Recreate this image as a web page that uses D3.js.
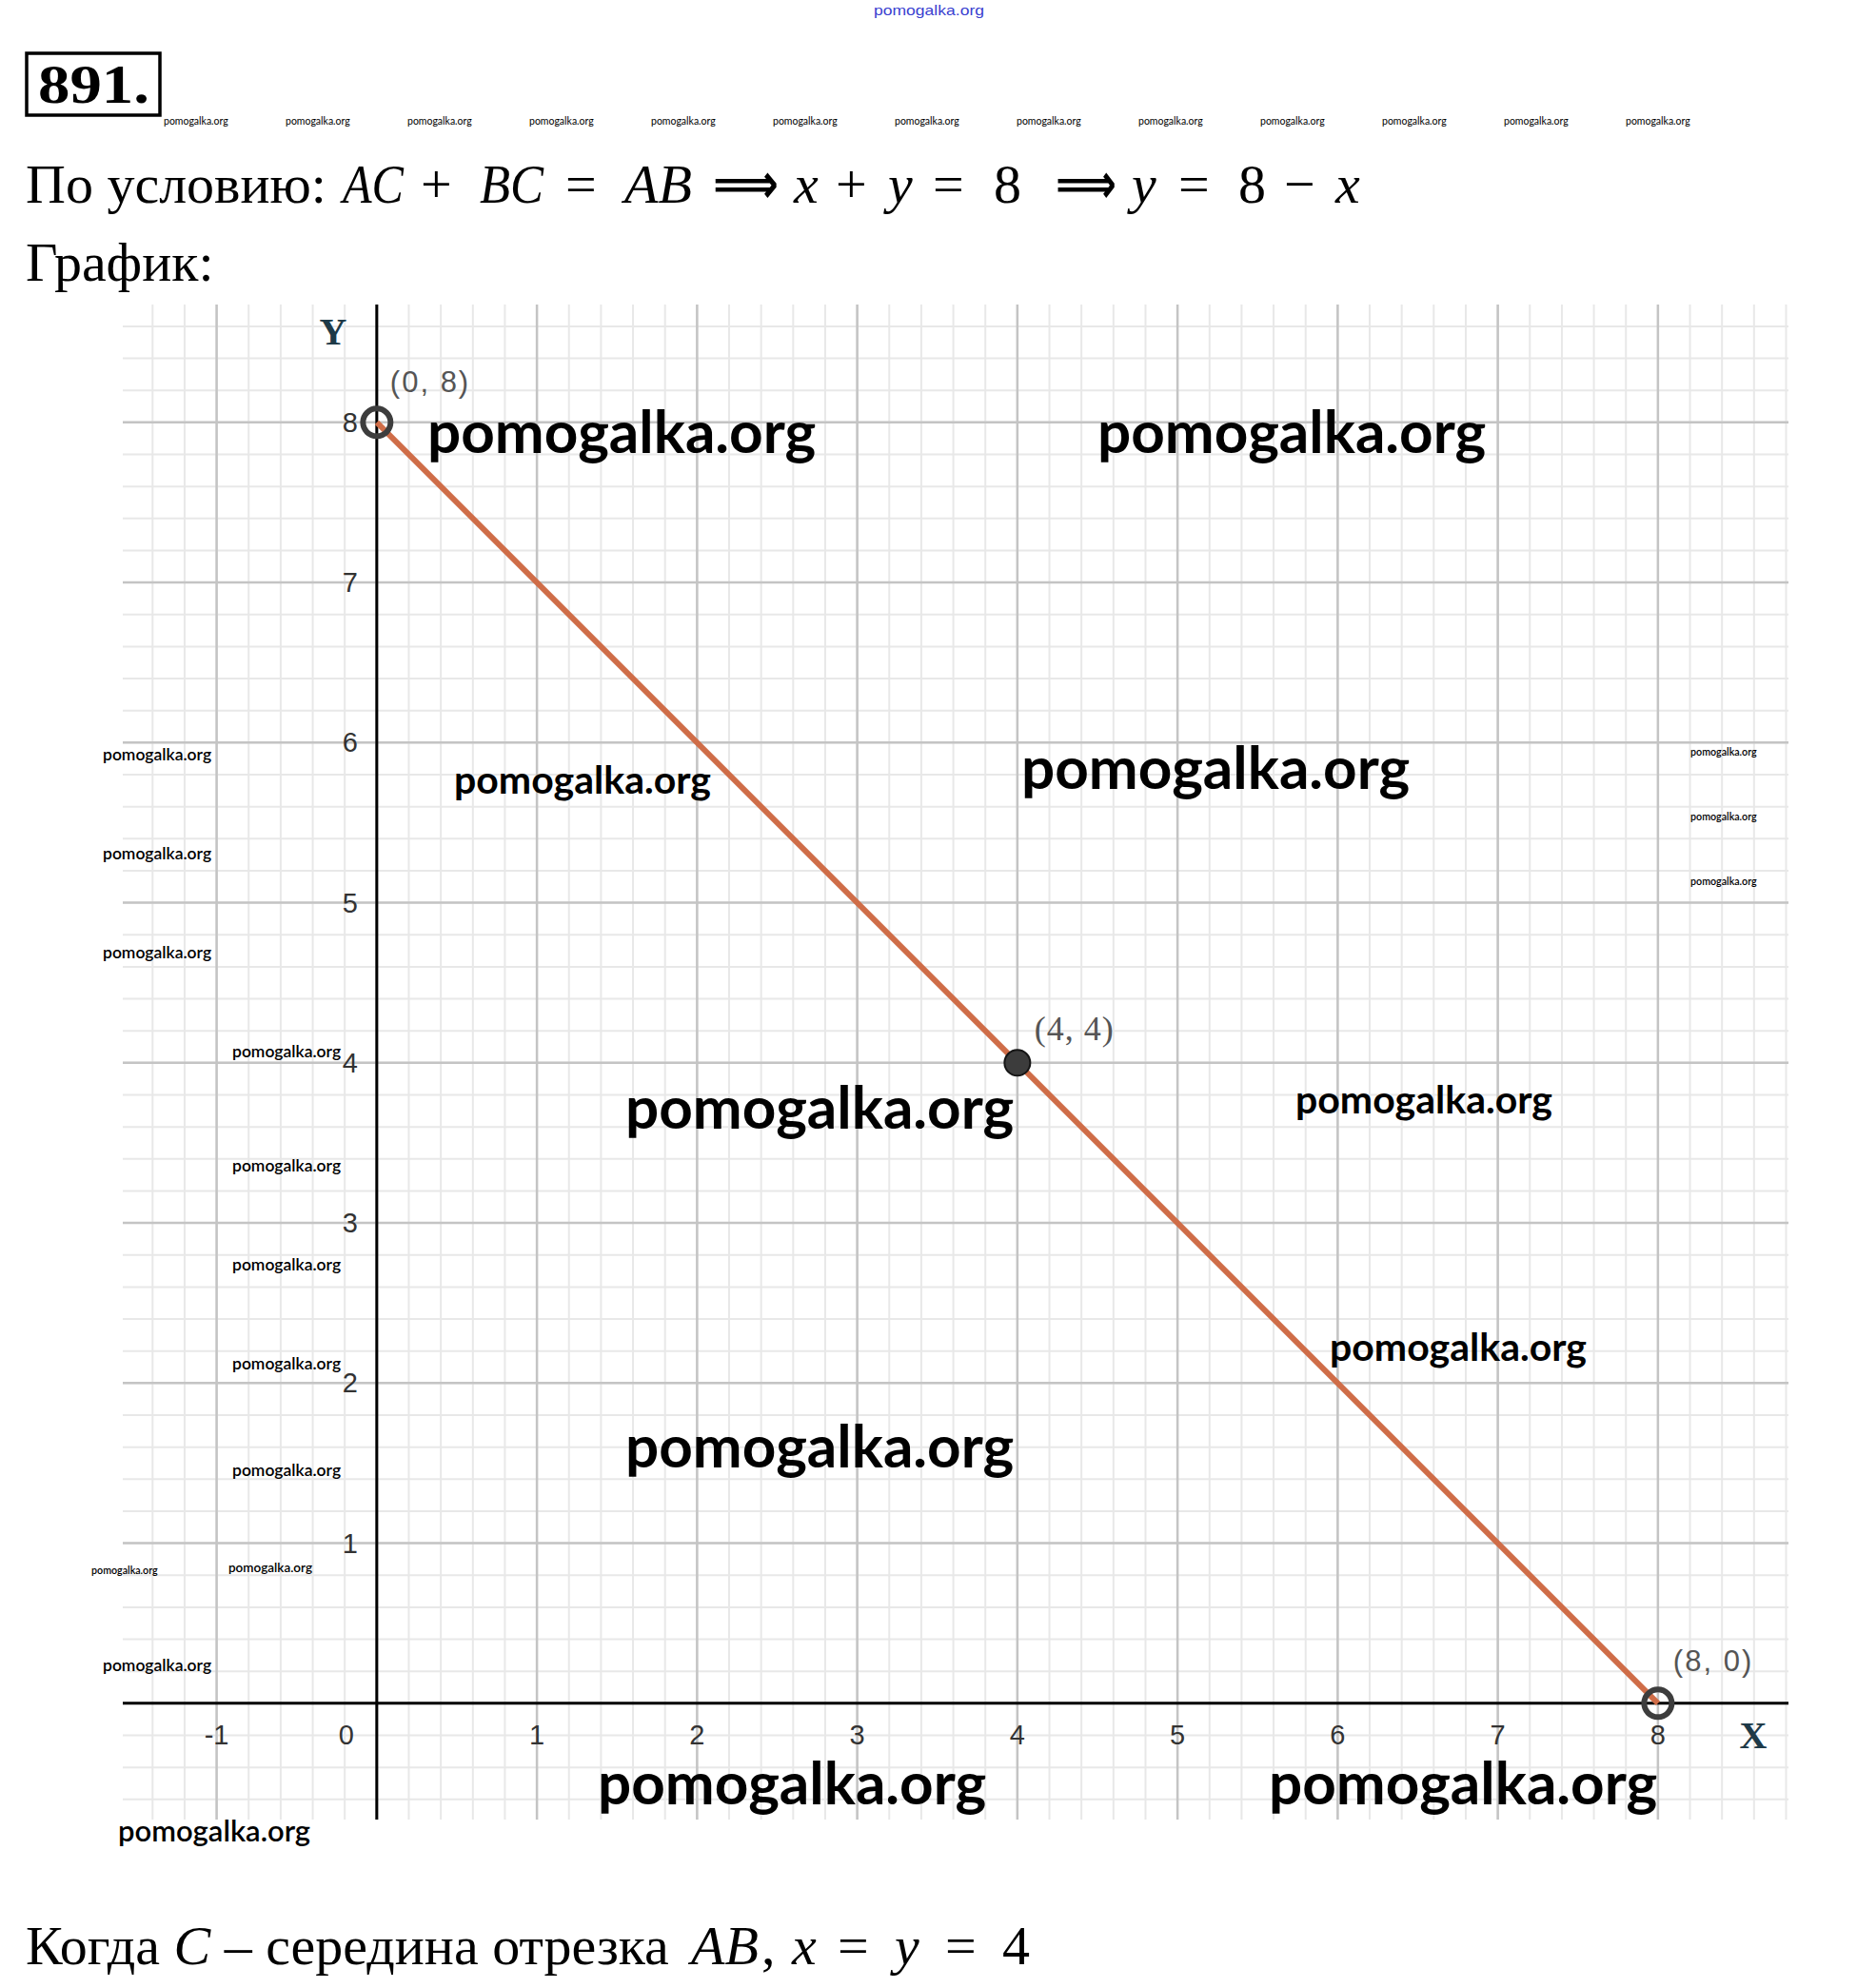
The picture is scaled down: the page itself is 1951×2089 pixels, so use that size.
<!DOCTYPE html>
<html>
<head>
<meta charset="utf-8">
<script src="https://cdn.jsdelivr.net/npm/d3@7"></script>
<style>
  html, body { margin: 0; padding: 0; background: #fff; }
  svg { display: block; }
</style>
</head>
<body>
<script>
// ---------- data ----------
const xTickLabels = [-1, 0, 1, 2, 3, 4, 5, 6, 7, 8];
const yTickLabels = [1, 2, 3, 4, 5, 6, 7, 8];
const segmentX = [0, 8];
const segmentY = [8, 0];
const pointX = [0, 4, 8];
const pointY = [8, 4, 0];
const pointLabels = ["(0, 8)", "(4, 4)", "(8, 0)"];
const pointOpen = [true, false, true];
const xDomain = [-1.586, 8.815];
const yDomain = [-0.726, 8.736];

// ---------- layout ----------
const W = 1951, H = 2089;
const svg = d3.select("body").append("svg").attr("width", W).attr("height", H)
  .attr("viewBox", `0 0 ${W} ${H}`);
svg.append("rect").attr("width", W).attr("height", H).attr("fill", "#fff");

const x = d3.scaleLinear().domain(xDomain).range([129, 1879]);
const y = d3.scaleLinear().domain(yDomain).range([1912, 320]);

const serif = "'Liberation Serif', 'Times New Roman', serif";
const sans = "'Liberation Sans', Arial, sans-serif";
const lato = "Lato, 'Open Sans', sans-serif";
const arrowFont = "'DejaVu Sans', sans-serif";

// ---------- header ----------
svg.append("text").attr("x", 976).attr("y", 16).attr("text-anchor", "middle")
  .attr("font-family", sans).attr("font-size", 15).attr("fill", "#3a3fd0")
  .attr("textLength", 116).attr("lengthAdjust", "spacingAndGlyphs")
  .text("pomogalka.org");

svg.append("rect").attr("x", 28).attr("y", 56).attr("width", 140).attr("height", 65)
  .attr("fill", "none").attr("stroke", "#000").attr("stroke-width", 3.5);
svg.append("text").attr("x", 40).attr("y", 108)
  .attr("font-family", serif).attr("font-weight", 700).attr("font-size", 58)
  .attr("textLength", 117).attr("lengthAdjust", "spacingAndGlyphs")
  .attr("fill", "#000").text("891.");

// tiny watermark row
const rowG = svg.append("g").attr("font-family", lato).attr("font-size", 10.5).attr("fill", "#000");
d3.range(13).forEach(i => {
  rowG.append("text").attr("x", 172 + i * 128).attr("y", 131).text("pomogalka.org");
});

// equation line: [text, x, style, width]
const eqTokens = [
  ["AC", 360, "i", 64], ["+", 442, "o"], ["BC", 504, "i", 67], ["=", 594, "o"],
  ["AB", 656, "i", 71], ["⟹", 749, "a", 69], ["x", 834, "i"], ["+", 878, "o"], ["y", 933, "i"],
  ["=", 980, "o"], ["8", 1044, "o"], ["⟹", 1109, "a", 64], ["y", 1189, "i"], ["=", 1238, "o"],
  ["8", 1301, "o"], ["−", 1349, "o"], ["x", 1403, "i"]
];
svg.append("text").attr("x", 27).attr("y", 213).attr("font-size", 58).attr("font-family", serif)
  .attr("fill", "#000").text("По условию:");
eqTokens.forEach(([t, px, s, w]) => {
  const el = svg.append("text").attr("x", px).attr("y", 213).attr("font-size", 58).attr("fill", "#000")
    .attr("font-family", s === "a" ? arrowFont : serif)
    .attr("font-style", s === "i" ? "italic" : "normal")
    .text(t);
  if (w) el.attr("textLength", w).attr("lengthAdjust", "spacingAndGlyphs");
  if (s === "a") el.attr("font-weight", 700);
});

svg.append("text").attr("x", 27).attr("y", 295).attr("font-family", serif)
  .attr("font-size", 58).attr("fill", "#000").text("График:");

// ---------- grid ----------
const g = svg.append("g");
const xMinor = x.ticks(52), yMinor = y.ticks(47);
g.selectAll(".vmin").data(xMinor).join("line")
  .attr("x1", d => x(d)).attr("x2", d => x(d)).attr("y1", y.range()[1]).attr("y2", y.range()[0])
  .attr("stroke", "#e8e8e8").attr("stroke-width", 2);
g.selectAll(".hmin").data(yMinor).join("line")
  .attr("y1", d => y(d)).attr("y2", d => y(d)).attr("x1", x.range()[0]).attr("x2", x.range()[1])
  .attr("stroke", "#e8e8e8").attr("stroke-width", 2);
g.selectAll(".vmaj").data(x.ticks(10)).join("line")
  .attr("x1", d => x(d)).attr("x2", d => x(d)).attr("y1", y.range()[1]).attr("y2", y.range()[0])
  .attr("stroke", "#c4c4c4").attr("stroke-width", 2.5);
g.selectAll(".hmaj").data(y.ticks(10)).join("line")
  .attr("y1", d => y(d)).attr("y2", d => y(d)).attr("x1", x.range()[0]).attr("x2", x.range()[1])
  .attr("stroke", "#c4c4c4").attr("stroke-width", 2.5);

// axes
g.append("line").attr("x1", x.range()[0]).attr("x2", x.range()[1]).attr("y1", y(0)).attr("y2", y(0))
  .attr("stroke", "#000").attr("stroke-width", 3);
g.append("line").attr("x1", x(0)).attr("x2", x(0)).attr("y1", y.range()[1]).attr("y2", y.range()[0])
  .attr("stroke", "#000").attr("stroke-width", 3);

// tick labels
g.selectAll(".xl").data(xTickLabels).join("text")
  .attr("x", d => d === 0 ? x(d) - 32 : x(d)).attr("y", y(0) + 43)
  .attr("text-anchor", "middle").attr("font-family", sans).attr("font-size", 29)
  .attr("fill", "#333").text(d => d);
g.selectAll(".yl").data(yTickLabels).join("text")
  .attr("x", x(0) - 20).attr("y", d => y(d) + 10)
  .attr("text-anchor", "end").attr("font-family", sans).attr("font-size", 29)
  .attr("fill", "#333").text(d => d);

// axis names
g.append("text").attr("x", 350).attr("y", 362).attr("text-anchor", "middle")
  .attr("font-family", serif).attr("font-size", 40).attr("font-weight", 700).attr("fill", "#1e3a48").text("Y");
g.append("text").attr("x", 1842).attr("y", 1837).attr("text-anchor", "middle")
  .attr("font-family", serif).attr("font-size", 40).attr("font-weight", 700).attr("fill", "#1e3a48").text("X");

// ---------- watermarks (under the line) ----------
const wm = svg.append("g").attr("font-family", lato).attr("fill", "#000");
const bigWm = [[449, 476], [1153, 476], [1073, 829], [657, 1186], [657, 1542], [628, 1896], [1333, 1896]];
bigWm.forEach(([px, py]) => wm.append("text").attr("x", px).attr("y", py)
  .attr("font-size", 62).attr("font-weight", 700).text("pomogalka.org"));
const medWm = [[477, 834], [1361, 1170], [1397, 1430]];
medWm.forEach(([px, py]) => wm.append("text").attr("x", px).attr("y", py)
  .attr("font-size", 41).attr("font-weight", 700).text("pomogalka.org"));
wm.append("text").attr("x", 124).attr("y", 1935).attr("font-size", 31).attr("font-weight", 600).text("pomogalka.org");
const smallWm = [[108, 799], [108, 903], [108, 1007], [244, 1111], [244, 1231], [244, 1335], [244, 1439], [244, 1551], [108, 1756]];
smallWm.forEach(([px, py]) => wm.append("text").attr("x", px).attr("y", py)
  .attr("font-size", 17.5).attr("font-weight", 600).text("pomogalka.org"));
wm.append("text").attr("x", 96).attr("y", 1654).attr("font-size", 10.7).attr("font-weight", 600).text("pomogalka.org");
wm.append("text").attr("x", 240).attr("y", 1652).attr("font-size", 13.5).attr("font-weight", 600).text("pomogalka.org");
[794, 862, 930].forEach(py => wm.append("text").attr("x", 1776).attr("y", py)
  .attr("font-size", 10.7).attr("font-weight", 600).text("pomogalka.org"));

// ---------- segment ----------
const lineData = segmentX.map((v, i) => ({ x: v, y: segmentY[i] }));
svg.append("path").datum(lineData)
  .attr("d", d3.line().x(d => x(d.x)).y(d => y(d.y)))
  .attr("stroke", "#cf6d48").attr("stroke-width", 6).attr("fill", "none");

// ---------- points ----------
const pts = pointX.map((v, i) => ({ x: v, y: pointY[i], label: pointLabels[i], open: pointOpen[i] }));
svg.selectAll(".pt").data(pts).join("circle")
  .attr("cx", d => x(d.x)).attr("cy", d => y(d.y))
  .attr("r", d => d.open ? 14.5 : 13.5)
  .attr("fill", d => d.open ? "none" : "#3c3c3c")
  .attr("stroke", d => d.open ? "#3d3d3d" : "#151515")
  .attr("stroke-width", d => d.open ? 6 : 2);

// point labels
const lblOffsets = [[14, -32], [18, -24], [16, -34]];
svg.selectAll(".pl").data(pts).join("text")
  .attr("x", (d, i) => x(d.x) + lblOffsets[i][0]).attr("y", (d, i) => y(d.y) + lblOffsets[i][1])
  .attr("font-family", (d, i) => i === 1 ? serif : sans)
  .attr("font-size", (d, i) => i === 1 ? 36 : 31)
  .attr("letter-spacing", (d, i) => i === 1 ? 1 : 2)
  .attr("fill", "#555").text(d => d.label);

// ---------- bottom line ----------
const by = 2064;
const bt = svg.append("text").attr("x", 27).attr("y", by).attr("font-size", 58).attr("fill", "#000")
  .attr("font-family", serif);
bt.append("tspan").text("Когда ");
bt.append("tspan").attr("font-style", "italic").text("C");
bt.append("tspan").text(" – середина отрезка ");
const bottomMath = [["AB", 726, "i"], [",", 800, "o"], ["x", 832, "i"], ["=", 880, "o"], ["y", 940, "i"], ["=", 993, "o"], ["4", 1053, "o"]];
bottomMath.forEach(([t, px, s]) => svg.append("text").attr("x", px).attr("y", by)
  .attr("font-size", 58).attr("font-family", serif).attr("fill", "#000")
  .attr("font-style", s === "i" ? "italic" : "normal").text(t));
</script>
</body>
</html>
